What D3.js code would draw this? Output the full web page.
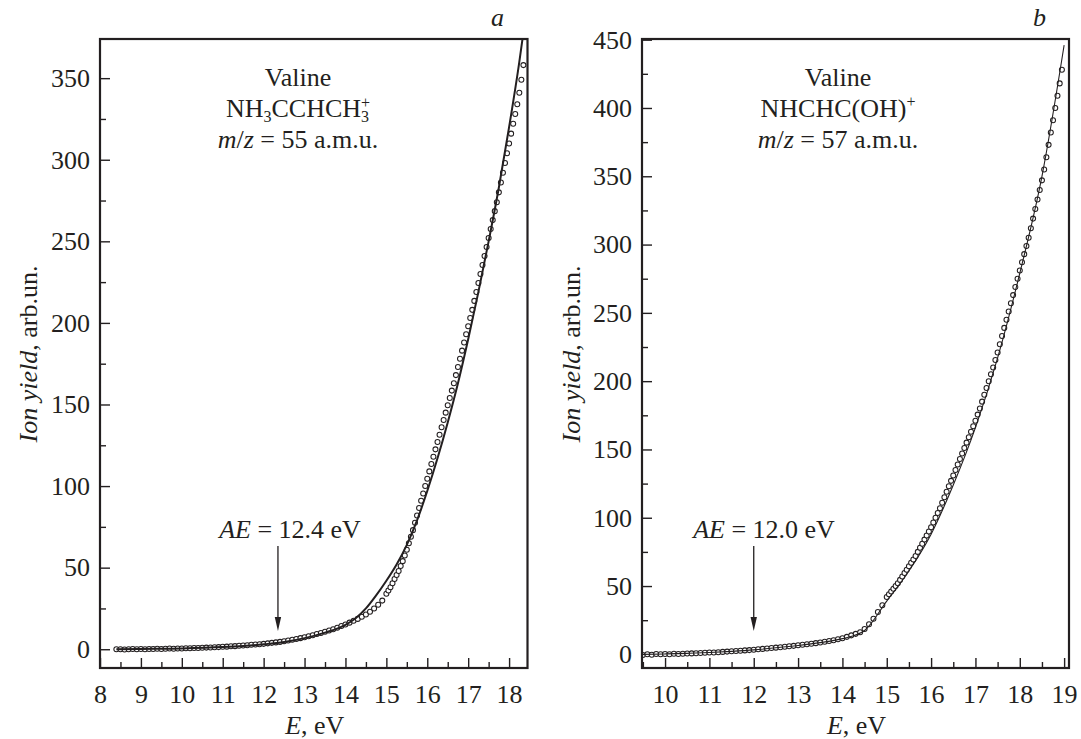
<!DOCTYPE html>
<html>
<head>
<meta charset="utf-8">
<script src="https://cdn.jsdelivr.net/npm/d3@7"></script>
<style>
  body { margin: 0; background: #fff; }
  svg text { font-family: "Liberation Serif", "Times New Roman", serif; fill: #231f20; }
</style>
</head>
<body>
<script>
const width = 1081;
const height = 739;

// ---- data ----
// panel a: Valine, NH3CCHCH3+, m/z = 55
const circlesA = [
  [8.4,0],[8.5,0],[8.6,-0.2],[8.7,0],[8.8,0.1],[8.9,0],[9.0,0.1],[9.1,0],[9.2,0.2],[9.3,0.1],
  [9.4,0.3],[9.5,0.2],[9.6,0.3],[9.7,0.4],[9.8,0.3],[9.9,0.5],[10.0,0.5],[10.1,0.6],[10.2,0.6],[10.3,0.8],
  [10.4,0.7],[10.5,0.9],[10.6,1.0],[10.7,1.1],[10.8,1.2],[10.9,1.3],[11.0,1.5],[11.1,1.6],[11.2,1.8],[11.3,1.9],
  [11.4,2.1],[11.5,2.3],[11.6,2.5],[11.7,2.7],[11.8,2.9],[11.9,3.1],[12.0,3.3],[12.1,3.6],[12.2,3.9],[12.3,4.2],
  [12.4,4.5],[12.5,4.9],[12.6,5.3],[12.7,5.8],[12.8,6.3],[12.9,6.8],[13.0,7.4],[13.1,8.0],[13.2,8.6],[13.3,9.3],
  [13.4,10.0],[13.5,10.7],[13.6,11.5],[13.7,12.3],[13.8,13.2],[13.9,14.2],[14.0,15.2],[14.1,16.3],[14.2,17.4],[14.3,18.6],
  [14.4,19.9],[14.5,21.3],[14.6,23.0],[14.7,25.0],[14.8,27.3],[14.9,29.8],
  [15.0,34],[15.05,36],[15.1,38],[15.15,40.5],[15.2,43],[15.25,45.5],[15.3,48],[15.35,51],[15.4,54],[15.45,57.5],
  [15.5,61],[15.55,65],[15.6,69],[15.65,73],[15.7,77.5],[15.75,82],[15.8,86.5],[15.85,91],[15.9,95.5],[15.95,100],
  [16.0,104.5],[16.05,109],[16.1,113.5],[16.15,118],[16.2,122.5],[16.25,127],[16.3,131.5],[16.35,136],[16.4,140.5],[16.45,145],
  [16.5,149.5],[16.55,154],[16.6,158.5],[16.65,163],[16.7,168],[16.75,173],[16.8,178],[16.85,183],[16.9,188],[16.95,193],
  [17.0,198],[17.05,203],[17.1,208],[17.15,213.5],[17.2,219],[17.25,224.5],[17.3,230],[17.35,235.5],[17.4,241],[17.45,246.5],
  [17.5,252],[17.55,257.5],[17.6,263],[17.65,268.5],[17.7,274],[17.75,280],[17.8,286],[17.85,292],[17.9,298],[17.95,304],
  [18.0,310],[18.05,316],[18.1,322],[18.15,328],[18.2,334],[18.25,341],[18.3,349],[18.35,358]
];
const fitA = [
  [8.4,0],[9.0,0.2],[10.0,0.5],[11.0,1.3],[11.5,2],[12.0,3],[12.5,4.4],[13.0,6.8],[13.5,10.2],[14.0,15],
  [14.25,19],[14.5,25],[14.75,33],[15.0,42],[15.25,52],[15.5,64],[15.75,79],[16.0,97],[16.25,117],[16.5,139],
  [16.75,163],[17.0,190],[17.25,219],[17.5,250],[17.75,283],[18.0,320],[18.25,360],[18.35,378]
];
const xTicksA = [8, 9, 10, 11, 12, 13, 14, 15, 16, 17, 18];
const yTicksA = [0, 50, 100, 150, 200, 250, 300, 350];

// panel b: Valine, NHCHC(OH)+, m/z = 57
const circlesB = [
  [9.5,-0.5],[9.6,0],[9.7,-0.3],[9.8,0.2],[9.9,0],[10.0,0.3],[10.1,0.1],[10.2,0.4],[10.3,0.3],[10.4,0.5],
  [10.5,0.6],[10.6,0.7],[10.7,0.8],[10.8,1.0],[10.9,1.1],[11.0,1.3],[11.1,1.4],[11.2,1.6],[11.3,1.8],[11.4,2.0],
  [11.5,2.2],[11.6,2.4],[11.7,2.6],[11.8,2.9],[11.9,3.1],[12.0,3.4],[12.1,3.7],[12.2,4.0],[12.3,4.3],[12.4,4.6],
  [12.5,4.9],[12.6,5.2],[12.7,5.5],[12.8,5.9],[12.9,6.2],[13.0,6.6],[13.1,7.0],[13.2,7.4],[13.3,7.8],[13.4,8.2],
  [13.5,8.7],[13.6,9.2],[13.7,9.7],[13.8,10.3],[13.9,11.0],[14.0,11.8],[14.1,12.8],[14.2,13.9],[14.3,15.0],[14.4,16.2],
  [14.5,18.5],[14.6,22],[14.7,26],[14.8,31],[14.9,36],
  [15.0,42],[15.05,44],[15.1,46],[15.15,48],[15.2,50],[15.25,52],[15.3,54.5],[15.35,57],[15.4,59.5],[15.45,62],
  [15.5,64.5],[15.55,67],[15.6,69.5],[15.65,72],[15.7,75],[15.75,78],[15.8,81],[15.85,84],[15.9,87],[15.95,90],
  [16.0,93],[16.05,96.5],[16.1,100],[16.15,103.5],[16.2,107],[16.25,111],[16.3,115],[16.35,119],[16.4,123],[16.45,127],
  [16.5,131],[16.55,135],[16.6,139],[16.65,143],[16.7,147],[16.75,151],[16.8,155],[16.85,159],[16.9,163],[16.95,167],
  [17.0,171],[17.05,175.5],[17.1,180],[17.15,185],[17.2,190],[17.25,195],[17.3,200],[17.35,205],[17.4,210],[17.45,215.5],
  [17.5,221],[17.55,227],[17.6,233],[17.65,239],[17.7,245],[17.75,251],[17.8,257],[17.85,263],[17.9,269],[17.95,275],
  [18.0,281],[18.05,287],[18.1,293],[18.15,299],[18.2,305],[18.25,312],[18.3,319],[18.35,326],[18.4,333],[18.45,340],
  [18.5,347],[18.55,355],[18.6,364],[18.65,373],[18.7,382],[18.75,391],[18.8,400],[18.85,409],[18.9,418],[18.95,428]
];
const fitB = [
  [9.5,0],[10.0,0.3],[10.5,0.7],[11.0,1.3],[11.5,2.2],[12.0,3.3],[12.5,4.8],[13.0,6.5],[13.5,8.6],[14.0,11.5],
  [14.5,17.5],[15.0,39],[15.5,61],[16.0,88],[16.5,124],[17.0,166],[17.5,217],[18.0,279],[18.5,350],[19.0,446]
];
const xTicksB = [10, 11, 12, 13, 14, 15, 16, 17, 18, 19];
const yTicksB = [0, 50, 100, 150, 200, 250, 300, 350, 400, 450];

const svg = d3.select("body").append("svg")
  .attr("width", width)
  .attr("height", height)
  .attr("viewBox", [0, 0, width, height])
  .style("font-family", "'Liberation Serif', 'Times New Roman', serif");

svg.append("rect").attr("width", width).attr("height", height).attr("fill", "#fff");

const fs = 26;

function drawPanel(o) {
  const x = d3.scaleLinear().domain(o.xDomain).range([o.left, o.right]);
  const y = d3.scaleLinear().domain(o.yDomain).range([o.bottom, o.top]);
  const g = svg.append("g").attr("id", o.id);

  const clipId = "clip-" + o.id;
  g.append("clipPath").attr("id", clipId)
    .append("rect")
    .attr("x", o.left).attr("y", o.top)
    .attr("width", o.right - o.left).attr("height", o.bottom - o.top);

  // minor ticks
  const xMinor = o.xTicks.map(d => d + 0.5).filter(d => d < o.xDomain[1]);
  if (o.xDomain[0] <= o.xTicks[0] - 0.5) xMinor.unshift(o.xTicks[0] - 0.5);
  g.append("g")
    .attr("transform", `translate(0, ${o.bottom})`)
    .call(d3.axisBottom(x).tickValues(xMinor).tickSize(-6).tickFormat(""))
    .call(a => a.select(".domain").remove());
  const yMinor = o.yTicks.map(d => d + 25).filter(d => d < o.yDomain[1] - 3);
  g.append("g")
    .attr("transform", `translate(${o.left}, 0)`)
    .call(d3.axisLeft(y).tickValues(yMinor).tickSize(-6).tickFormat(""))
    .call(a => a.select(".domain").remove());

  // major ticks
  const xAxis = g.append("g")
    .attr("transform", `translate(0, ${o.bottom})`)
    .call(d3.axisBottom(x).tickValues(o.xTicks).tickSize(-10).tickPadding(17).tickFormat(d3.format("d")));
  xAxis.select(".domain").remove();
  xAxis.attr("font-family", null).attr("font-size", fs);

  const yAxis = g.append("g")
    .attr("transform", `translate(${o.left}, 0)`)
    .call(d3.axisLeft(y).tickValues(o.yTicks).tickSize(-10).tickPadding(10).tickFormat(d3.format("d")));
  yAxis.select(".domain").remove();
  yAxis.attr("font-family", null).attr("font-size", fs);

  g.selectAll(".tick line").attr("stroke", "#231f20").attr("stroke-width", 1.4);

  // data
  const plot = g.append("g").attr("clip-path", `url(#${clipId})`);
  plot.selectAll("circle")
    .data(o.circles)
    .join("circle")
    .attr("cx", d => x(d[0]))
    .attr("cy", d => y(d[1]))
    .attr("r", 2.5)
    .attr("fill", "#fff")
    .attr("stroke", "#231f20")
    .attr("stroke-width", 1.05);

  plot.append("path")
    .datum(o.fit)
    .attr("fill", "none")
    .attr("stroke", "#231f20")
    .attr("stroke-width", o.lineWidth)
    .attr("d", d3.line().x(d => x(d[0])).y(d => y(d[1])).curve(d3.curveMonotoneX));

  // frame
  g.append("rect")
    .attr("x", o.left).attr("y", o.top)
    .attr("width", o.right - o.left).attr("height", o.bottom - o.top)
    .attr("fill", "none")
    .attr("stroke", "#231f20")
    .attr("stroke-width", 2.2);

  // axis titles
  const xt = g.append("text")
    .attr("x", (o.left + o.right) / 2 + 1)
    .attr("y", 734)
    .attr("text-anchor", "middle")
    .attr("font-size", fs);
  xt.append("tspan").attr("font-style", "italic").text("E");
  xt.append("tspan").text(", eV");

  const yt = g.append("text")
    .attr("transform", `translate(${o.yTitleX}, 354) rotate(-90)`)
    .attr("text-anchor", "middle")
    .attr("font-size", fs);
  yt.append("tspan").attr("font-style", "italic").text("Ion yield");
  yt.append("tspan").text(", arb.un.");

  // panel letter
  g.append("text")
    .attr("x", o.letterX).attr("y", 26)
    .attr("font-size", fs)
    .attr("font-style", "italic")
    .text(o.letter);

  // compound label
  const cx = o.labelX;
  g.append("text").attr("x", cx).attr("y", 86).attr("text-anchor", "middle")
    .attr("font-size", fs).text("Valine");
  o.formula(g.append("text").attr("x", cx).attr("y", 117).attr("text-anchor", "middle").attr("font-size", fs));
  const mz = g.append("text").attr("x", cx).attr("y", 148).attr("text-anchor", "middle").attr("font-size", fs);
  mz.append("tspan").attr("font-style", "italic").text("m");
  mz.append("tspan").text("/");
  mz.append("tspan").attr("font-style", "italic").text("z");
  mz.append("tspan").text(" = " + o.mz + " a.m.u.");

  // appearance energy arrow
  const ax = x(o.aeArrow);
  const ae = g.append("text").attr("x", o.aeTextX).attr("y", 538).attr("text-anchor", "middle").attr("font-size", fs);
  ae.append("tspan").attr("font-style", "italic").text("AE");
  ae.append("tspan").text(" = " + o.ae.toFixed(1) + " eV");
  g.append("line")
    .attr("x1", ax).attr("x2", ax).attr("y1", 546).attr("y2", 620)
    .attr("stroke", "#231f20").attr("stroke-width", 1.3);
  g.append("path")
    .attr("d", `M${ax},631 L${ax - 3.2},617 L${ax + 3.2},617 Z`)
    .attr("fill", "#231f20");
}

drawPanel({
  id: "panel-a",
  left: 100, right: 527.5, top: 39, bottom: 668,
  xDomain: [8, 18.45], yDomain: [-11.5, 374],
  xTicks: xTicksA, yTicks: yTicksA,
  circles: circlesA, fit: fitA, lineWidth: 2,
  yTitleX: 37, letter: "a", letterX: 491,
  labelX: 298, mz: 55,
  formula: t => {
    t.append("tspan").text("NH");
    t.append("tspan").attr("font-size", 16).attr("dy", 5).text("3");
    t.append("tspan").attr("dy", -5).text("CCHCH");
    t.append("tspan").attr("font-size", 16).attr("dy", 5).text("3");
    t.append("tspan").attr("font-size", 16).attr("dx", -8).attr("dy", -14).text("+");
  },
  ae: 12.4, aeArrow: 12.35, aeTextX: 290
});

drawPanel({
  id: "panel-b",
  left: 642, right: 1069, top: 39, bottom: 668,
  xDomain: [9.48, 19.11], yDomain: [-10, 450.5],
  xTicks: xTicksB, yTicks: yTicksB,
  circles: circlesB, fit: fitB, lineWidth: 1.1,
  yTitleX: 580, letter: "b", letterX: 1033,
  labelX: 838, mz: 57,
  formula: t => {
    t.append("tspan").text("NHCHC(OH)");
    t.append("tspan").attr("font-size", 16).attr("dy", -10).text("+");
  },
  ae: 12.0, aeArrow: 12.0, aeTextX: 764
});
</script>
</body>
</html>
